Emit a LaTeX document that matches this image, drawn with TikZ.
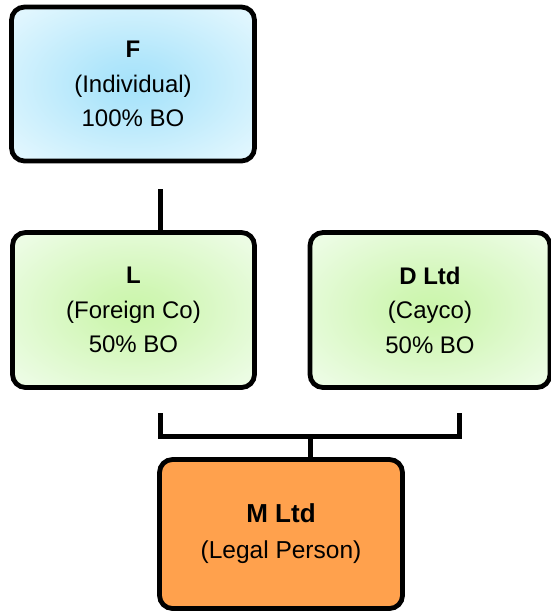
\documentclass[tikz,border=0pt]{standalone}
\usepackage{fontspec}
\setmainfont{Liberation Sans}
\usetikzlibrary{shadows}
\definecolor{blueIn}{RGB}{165,226,250}
\definecolor{blueOut}{RGB}{224,246,254}
\definecolor{greenIn}{RGB}{202,245,170}
\definecolor{greenOut}{RGB}{236,252,228}
\definecolor{orangeFill}{RGB}{255,161,77}
% soft radial fills that stay tinted over most of the box
\pgfdeclareradialshading{softblue}{\pgfpoint{0bp}{0bp}}{%
  color(0bp)=(blueIn); color(8bp)=(blueIn!80!blueOut); color(32bp)=(blueOut); color(50bp)=(blueOut!70!white)}
\pgfdeclareradialshading{softgreen}{\pgfpoint{0bp}{0bp}}{%
  color(0bp)=(greenIn); color(8bp)=(greenIn!80!greenOut); color(32bp)=(greenOut); color(50bp)=(greenOut!70!white)}
\begin{document}
\begin{tikzpicture}[x=1pt,y=-1pt,
  box/.style={draw=black, line width=4.8pt, rounded corners=13pt, outer sep=0pt,
    align=center, inner sep=0pt,
    drop shadow={shadow xshift=1.5pt, shadow yshift=-1.5pt, opacity=0.3, fill=black!60}},
  topbox/.style={box, font=\fontsize{24}{34.5}\selectfont},
  bluebox/.style={topbox, shading=softblue},
  greenbox/.style={topbox, shading=softgreen},
  orangebox/.style={box, fill=orangeFill, font=\fontsize{24.5}{36}\selectfont},
  link/.style={line width=5pt, line cap=rect}]
  \useasboundingbox (0,0) rectangle (551,611);

  % entities
  \node[bluebox, minimum width=243pt, minimum height=154pt] (F) at (133,84)
    {\textbf{F}\\(Individual)\\100\% BO};
  \node[greenbox, minimum width=242pt, minimum height=155pt] (L) at (133.5,310)
    {\textbf{L}\\(Foreign Co)\\50\% BO};
  \node[greenbox, minimum width=240pt, minimum height=155pt] (D) at (430,310)
    {\textbf{D Ltd}\\(Cayco)\\50\% BO};
  \node[orangebox, minimum width=243pt, minimum height=149pt] (M) at (281,534)
    {{\fontsize{26}{36}\selectfont\bfseries M Ltd}\\(Legal Person)};

  % F owns L
  \coordinate (fTop) at (160.5,189);
  \coordinate (lTop) at (160.5,232.5);
  \draw[line width=5pt] (fTop) -- (lTop);

  % L and D jointly own M
  \coordinate (bl) at (160.5,415);
  \coordinate (br) at (459,415);
  \coordinate (stem) at (310,436);
  \coordinate (mTop) at (310,458.5);
  \draw[link, line join=miter] (bl) |- (stem) -| (br);
  \draw[line width=5pt] (stem) -- (mTop);
\end{tikzpicture}
\end{document}
